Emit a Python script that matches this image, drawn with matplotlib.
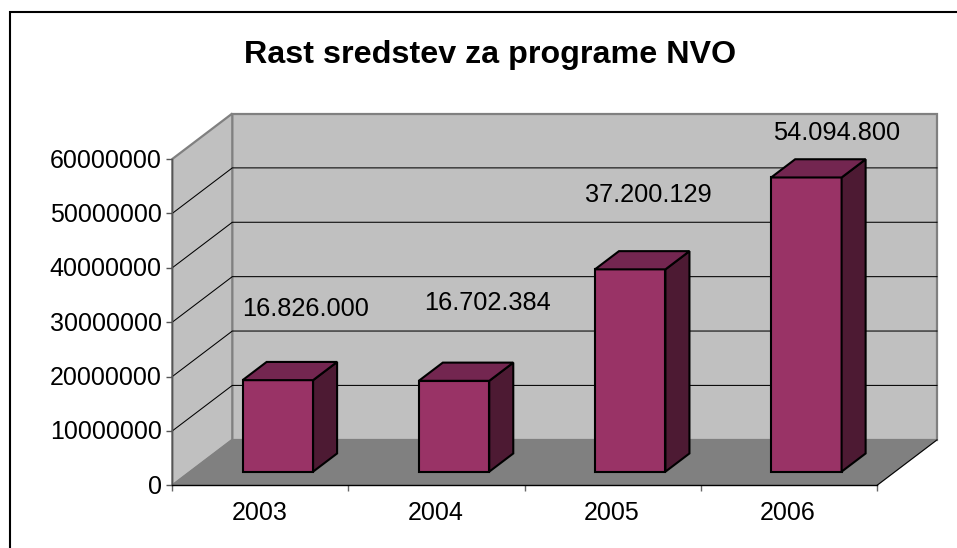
import matplotlib
matplotlib.use("Agg")
import matplotlib.pyplot as plt
from matplotlib.patches import Polygon
from matplotlib.transforms import ScaledTranslation

plt.rcParams['font.family'] = ['Liberation Sans', 'DejaVu Sans']

title = "Rast sredstev za programe NVO"
years = ["2003", "2004", "2005", "2006"]
values = [16826000, 16702384, 37200129, 54094800]
value_labels = ["16.826.000", "16.702.384", "37.200.129", "54.094.800"]
y_ticks = [0, 10000000, 20000000, 30000000, 40000000, 50000000, 60000000]

# style / layout
W, H = 957, 548
FRONT_L, FRONT_R, FRONT_B, FRONT_T = 172.3, 877, 485.3, 159
DEPTH_PX = (60, 45.5)
LABEL_OFFSET_PX = [(27, 71), (33, 78), (18, 74), (29.5, 44)]
BAR_W = 0.40
BAR_SHIFT = -0.003
BAR_D0, BAR_D1 = 0.3, 0.7
C_WALL, C_FLOOR, C_EDGE = "#C0C0C0", "#808080", "#808080"
C_FRONT, C_TOP, C_SIDE = "#993366", "#732650", "#4D1A33"

fig = plt.figure(figsize=(W / 100, H / 100), dpi=100, facecolor="white")
ax = fig.add_axes([FRONT_L / W, 1 - FRONT_B / H, (FRONT_R - FRONT_L) / W, (FRONT_B - FRONT_T) / H])
ax.set_xlim(0, len(years))
ax.set_ylim(0, y_ticks[-1])
ax.patch.set_visible(False)

px_x = (FRONT_R - FRONT_L) / len(years)
px_y = (FRONT_B - FRONT_T) / y_ticks[-1]
DX = DEPTH_PX[0] / px_x
DY = DEPTH_PX[1] / px_y


def P(x, y, d):
    return (x + d * DX, y + d * DY)


def poly(pts, fc, ec, lw, z):
    ax.add_patch(Polygon(pts, closed=True, facecolor=fc, edgecolor=ec, linewidth=lw,
                         zorder=z, clip_on=False, joinstyle="miter"))


nx = len(years)
ymax = y_ticks[-1]
# walls and floor
poly([P(0, 0, 1), P(nx, 0, 1), P(nx, ymax, 1), P(0, ymax, 1)], C_WALL, C_EDGE, 1.6, 1)
poly([P(0, 0, 0), P(0, 0, 1), P(0, ymax, 1), P(0, ymax, 0)], C_WALL, C_EDGE, 1.6, 1)
poly([P(0, 0, 0), P(nx, 0, 0), P(nx, 0, 1), P(0, 0, 1)], C_FLOOR, C_EDGE, 1.0, 2)

# gridlines on side and back walls
for t in y_ticks[1:-1]:
    a, b, c = P(0, t, 0), P(0, t, 1), P(nx, t, 1)
    ax.plot([a[0], b[0], c[0]], [a[1], b[1], c[1]], color="black", lw=0.75, zorder=3, clip_on=False)
a, b = P(nx, 0, 0), P(nx, 0, 1)
ax.plot([a[0], b[0]], [a[1], b[1]], color="black", lw=0.75, zorder=3, clip_on=False)

# bars
for i, v in enumerate(values):
    l = i + 0.5 - BAR_W / 2 + BAR_SHIFT
    r = l + BAR_W
    d0, d1 = BAR_D0, BAR_D1
    poly([P(l, 0, d0), P(r, 0, d0), P(r, v, d0), P(l, v, d0)], C_FRONT, "black", 1.5, 5)
    poly([P(r, 0, d0), P(r, 0, d1), P(r, v, d1), P(r, v, d0)], C_SIDE, "black", 1.5, 5)
    poly([P(l, v, d0), P(r, v, d0), P(r, v, d1), P(l, v, d1)], C_TOP, "black", 1.5, 5)
    cx, cy = P(i + 0.5, v, d0)
    off = LABEL_OFFSET_PX[i]
    ax.annotate(value_labels[i], xy=(cx, cy), xytext=(off[0] * 0.72, off[1] * 0.72),
                textcoords="offset points", ha="center", va="center",
                fontsize=18.3, color="black", zorder=6, annotation_clip=False)

# axes
for s in ("top", "right"):
    ax.spines[s].set_visible(False)
ax.spines["left"].set_color("#555555")
ax.spines["left"].set_linewidth(1.0)
ax.spines["bottom"].set_color("black")
ax.spines["bottom"].set_linewidth(1.0)
for s in ax.spines.values():
    s.set_zorder(4)
ax.set_yticks(y_ticks)
ax.set_yticklabels([str(t) for t in y_ticks], fontsize=18, color="black")
ax.set_xticks(range(nx + 1))
ax.set_xticklabels([])
ax.set_xticks([i + 0.5 for i in range(nx)], minor=True)
ax.set_xticklabels(years, minor=True, fontsize=18, color="black")
ax.tick_params(axis="x", which="major", length=4, width=1, color="#666666")
ax.tick_params(axis="x", which="minor", length=0, pad=11.5)
ax.tick_params(axis="y", which="major", length=4, width=1, color="#555555", pad=3)
shift_up = ScaledTranslation(0, 1 / 100, fig.dpi_scale_trans)
shift_left = ScaledTranslation(-1 / 100, 0, fig.dpi_scale_trans)
for lab in ax.get_yticklabels():
    lab.set_transform(lab.get_transform() + shift_up + shift_left)
for lab in ax.get_xticklabels(minor=True):
    lab.set_transform(lab.get_transform() + shift_left)

# title and outer frame (only left and top edges are in view)
fig.text(490.5 / W, 1 - 55 / H, title, ha="center", va="center", fontsize=23.2, fontweight="bold", color="black")
fig.add_artist(plt.Line2D([10 / W, 10 / W, 1], [0, 1 - 11.5 / H, 1 - 11.5 / H], color="black", lw=1.5,
                          transform=fig.transFigure, solid_joinstyle="miter"))

fig.savefig("out.png", dpi=100)
